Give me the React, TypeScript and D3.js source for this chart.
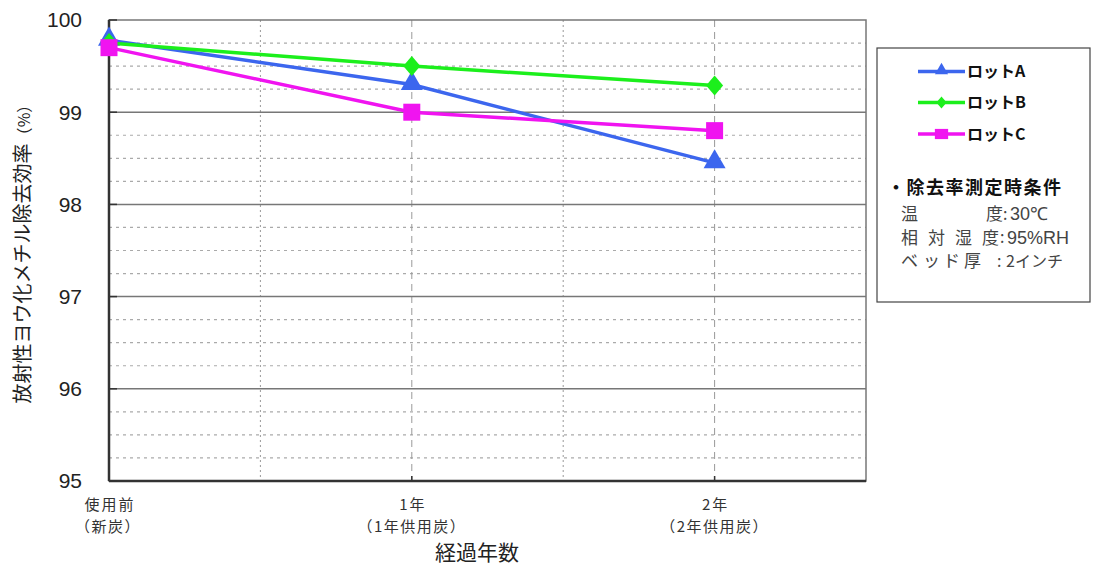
import React from "react";
import * as d3 from "d3";

const categories = [
  { x: 0, l1: "使用前", l2: "（新炭）" },
  { x: 1, l1: "1年", l2: "（1年供用炭）" },
  { x: 2, l1: "2年", l2: "（2年供用炭）" },
];
const years = [0, 1, 2];
const lotA = [99.78, 99.3, 98.45];
const lotB = [99.75, 99.5, 99.29];
const lotC = [99.7, 99.0, 98.8];
const yTicks = [95, 96, 97, 98, 99, 100];
const seriesNames = ["ロットA", "ロットB", "ロットC"];
const conditionTitle = "・除去率測定時条件";
const conditionRows = [
  { glyphs: ["温", "度"], value: "30℃" },
  { glyphs: ["相", "対", "湿", "度"], value: "95%RH" },
  { glyphs: ["ベ", "ッ", "ド", "厚"], value: "2インチ" },
];
const glyphX = [
  [901, 986],
  [901, 928, 955, 982],
  [901, 923, 943, 964],
];
const colonX = [1003, 1000, 997];
const valueX = [1010, 1007, 1006];

const W = 1093;
const H = 566;
const FONT = "'Noto Sans CJK JP', 'Noto Sans', sans-serif";
const NUMFONT = "'Liberation Sans', Arial, sans-serif";

export default function App() {
  const x = d3.scaleLinear().domain([0, 2.5]).range([109, 866]);
  const y = d3.scaleLinear().domain([95, 100]).range([481, 20]);

  const minor = d3.range(95, 100.001, 0.25).filter((v) => Math.abs(v - Math.round(v)) > 0.01);
  const line = d3
    .line<number>()
    .x((_, i) => x(years[i]))
    .y((d) => y(d));

  const series = [
    { name: seriesNames[0], values: lotA, color: "#3c66ee", marker: "tri" },
    { name: seriesNames[1], values: lotB, color: "#1cef1c", marker: "dia" },
    { name: seriesNames[2], values: lotC, color: "#f014f0", marker: "sq" },
  ];

  const marker = (m: string, cx: number, cy: number, color: string, k: number, key: any) => {
    if (m === "tri") {
      const p = d3.symbol().type(d3.symbolTriangle).size(210 * k * k)();
      return <path key={key} d={p!} transform={`translate(${cx},${cy - 1})`} fill={color} />;
    }
    if (m === "dia") {
      const rx = 8.5 * k;
      const ry = 10 * k;
      return (
        <path
          key={key}
          d={`M${cx},${cy - ry}L${cx + rx},${cy}L${cx},${cy + ry}L${cx - rx},${cy}Z`}
          fill={color}
        />
      );
    }
    const w = 8.5 * k * (k < 1 ? 1.3 : 1);
    const h = 8.5 * k;
    return <rect key={key} x={cx - w} y={cy - h} width={w * 2} height={h * 2} fill={color} />;
  };

  const legendY = [71.5, 102.5, 134];
  const rowY = [214, 237.5, 261];

  return (
    <svg
      width={W}
      height={H}
      style={{ position: "absolute", left: 0, top: 0, background: "#fff" }}
      fontFamily={FONT}
    >
      <rect width={W} height={H} fill="#fff" />
      {/* minor horizontal grid */}
      {minor.map((v, i) => (
        <line
          key={"mn" + i}
          x1={x(0)}
          x2={x(2.5)}
          y1={y(v)}
          y2={y(v)}
          stroke="#aaa"
          strokeWidth={1.2}
          strokeDasharray="3,4"
        />
      ))}
      {/* vertical grid */}
      {[0.5, 1, 1.5, 2].map((v, i) => (
        <line
          key={"vg" + i}
          x1={x(v)}
          x2={x(v)}
          y1={y(100)}
          y2={y(95)}
          stroke="#999"
          strokeWidth={1}
          strokeDasharray={v % 1 === 0 ? "7,5" : "2,3"}
        />
      ))}
      {/* major horizontal grid */}
      {yTicks
        .filter((v) => v > 95 && v < 100)
        .map((v) => (
          <line key={"mj" + v} x1={x(0)} x2={x(2.5)} y1={y(v)} y2={y(v)} stroke="#777" strokeWidth={1.5} />
        ))}
      {/* frame */}
      <rect x={x(0)} y={y(100)} width={x(2.5) - x(0)} height={y(95) - y(100)} fill="none" stroke="#777" strokeWidth={1.5} />
      <line x1={x(0)} x2={x(0)} y1={y(100)} y2={y(95)} stroke="#333" strokeWidth={2.5} />
      <line x1={x(0)} x2={x(2.5)} y1={y(95)} y2={y(95)} stroke="#333" strokeWidth={2.5} />
      {/* y ticks */}
      {yTicks.map((v) => (
        <g key={"yt" + v}>
          <line x1={x(0)} x2={x(0) + 8} y1={y(v)} y2={y(v)} stroke="#333" strokeWidth={1.5} />
          <text x={82} y={y(v)} dy="0.35em" textAnchor="end" fontSize={21} fill="#222" fontFamily={NUMFONT}>
            {v}
          </text>
        </g>
      ))}
      {/* x ticks */}
      {categories.map((c) => (
        <g key={"xt" + c.x}>
          <line x1={x(c.x)} x2={x(c.x)} y1={y(95)} y2={y(95) - 5} stroke="#333" strokeWidth={1.5} />
          <text x={x(c.x) + 1} y={510} textAnchor="middle" fontSize={15} letterSpacing={2} fill="#333">
            {c.l1}
          </text>
          <text x={x(c.x) + (c.x === 0 ? -1 : 0)} y={532} textAnchor="middle" fontSize={15} letterSpacing={1.5} fill="#333">
            {c.l2}
          </text>
        </g>
      ))}
      <text x={477} y={560} textAnchor="middle" fontSize={21} fill="#222">
        経過年数
      </text>
      <text
        transform={`translate(30,${250}) rotate(-90)`}
        textAnchor="middle"
        fontSize={20}
        fill="#222"
      >
        放射性ヨウ化メチル除去効率<tspan fontSize={16}>（%）</tspan>
      </text>
      {/* series */}
      {series.map((s) => (
        <g key={s.name}>
          <path d={line(s.values)!} fill="none" stroke={s.color} strokeWidth={3.5} />
          {s.values.map((v, i) => marker(s.marker, x(years[i]), y(v), s.color, 1, i))}
        </g>
      ))}
      {/* legend box */}
      <rect x={877} y={48} width={213} height={254} fill="#fff" stroke="#444" strokeWidth={1.2} />
      {series.map((s, i) => (
        <g key={"lg" + i}>
          <line x1={918} x2={965} y1={legendY[i]} y2={legendY[i]} stroke={s.color} strokeWidth={3.5} />
          {marker(s.marker, 941.5, legendY[i], s.color, 0.6, "m" + i)}
          <text x={967} y={legendY[i]} dy="0.36em" fontSize={16} fontWeight="bold" fill="#111">
            {s.name}
          </text>
        </g>
      ))}
      <text x={887} y={188} dy="0.36em" fontSize={18} fontWeight="bold" letterSpacing={1.5} fill="#111">
        {conditionTitle}
      </text>
      {conditionRows.map((r, i) => (
        <g key={"cr" + i} fontSize={16} fill="#444">
          {r.glyphs.map((g, j) => (
            <text key={j} x={glyphX[i][j]} y={rowY[i]} dy="0.36em" fontSize={17}>
              {g}
            </text>
          ))}
          <text x={colonX[i]} y={rowY[i]} dy="0.36em">
            :
          </text>
          <text x={valueX[i]} y={rowY[i]} dy="0.36em" fontFamily={i === 2 ? FONT : NUMFONT} fontSize={i === 2 ? 16 : 18}>
            {r.value}
          </text>
        </g>
      ))}
    </svg>
  );
}
